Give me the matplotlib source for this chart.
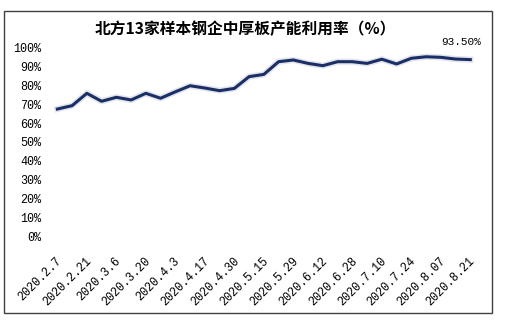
import matplotlib
matplotlib.use("Agg")
import matplotlib.pyplot as plt
import matplotlib.patheffects as pe
import matplotlib.transforms as mtransforms
from matplotlib.patches import Rectangle

plt.rcParams['font.family'] = ['Noto Sans CJK SC', 'DejaVu Sans']

# weekly survey dates and capacity utilisation (%)
dates = ["2020.2.7", "2020.2.14", "2020.2.21", "2020.2.28", "2020.3.6", "2020.3.13",
         "2020.3.20", "2020.3.27", "2020.4.3", "2020.4.10", "2020.4.17", "2020.4.24",
         "2020.4.30", "2020.5.8", "2020.5.15", "2020.5.22", "2020.5.29", "2020.6.5",
         "2020.6.12", "2020.6.19", "2020.6.28", "2020.7.3", "2020.7.10", "2020.7.17",
         "2020.7.24", "2020.7.31", "2020.8.07", "2020.8.14", "2020.8.21"]
rate = [67.4, 69.2, 75.7, 71.5, 73.6, 72.2, 75.7, 73.1, 76.5, 79.7,
        78.5, 77.1, 78.3, 84.5, 85.7, 92.4, 93.3, 91.5, 90.3, 92.4,
        92.4, 91.5, 93.7, 91.2, 94.2, 95.0, 94.7, 93.8, 93.5]
yticks = list(range(0, 101, 10))

W, H = 505, 324
fig = plt.figure(figsize=(W / 100, H / 100), dpi=100)

# outer chart border
fig.patches.append(Rectangle((4 / W, 1 - 313 / H), 488 / W, 302 / H,
                             transform=fig.transFigure, fill=False,
                             edgecolor="#404040", linewidth=1.0))

ax = fig.add_axes([50 / W, 1 - 236.7 / H, 427.7 / W, 189.4 / H])
x = list(range(len(rate)))
ax.plot(x, rate, color="#1b2f66", linewidth=2.2, solid_joinstyle="round",
        path_effects=[pe.Stroke(linewidth=4.5, foreground="#1b2f66", alpha=0.12),
                      pe.Normal()])

ax.set_xlim(-0.5, len(rate) - 0.5)
ax.set_ylim(0, 100)
ax.set_yticks(yticks)
ax.set_yticklabels([f"{v}%" for v in yticks], family="Liberation Mono", fontsize=8.5)
ax.set_xticks(x[::2])
ax.set_xticklabels(dates[::2], rotation=45, ha="right", va="center",
                   rotation_mode="anchor", family="Liberation Mono", fontsize=8.5)
ax.tick_params(length=0)
ax.tick_params(axis="x", pad=16)
ax.tick_params(axis="y", pad=6.5)
shift = mtransforms.ScaledTranslation(2 / 72, 0, fig.dpi_scale_trans)
for lbl in ax.get_xticklabels():
    lbl.set_transform(lbl.get_transform() + shift)
for s in ax.spines.values():
    s.set_visible(False)

ax.annotate(f"{rate[-1]:.2f}%", (x[-1], rate[-1]), xytext=(8, 9),
            textcoords="offset points", ha="right", va="bottom",
            family="Liberation Mono", fontsize=8)

fig.text(245 / W, 1 - 29 / H, "北方13家样本钢企中厚板产能利用率（%）",
         ha="center", va="center", fontsize=11.3, fontweight="bold")

fig.savefig("out.png", dpi=100)
